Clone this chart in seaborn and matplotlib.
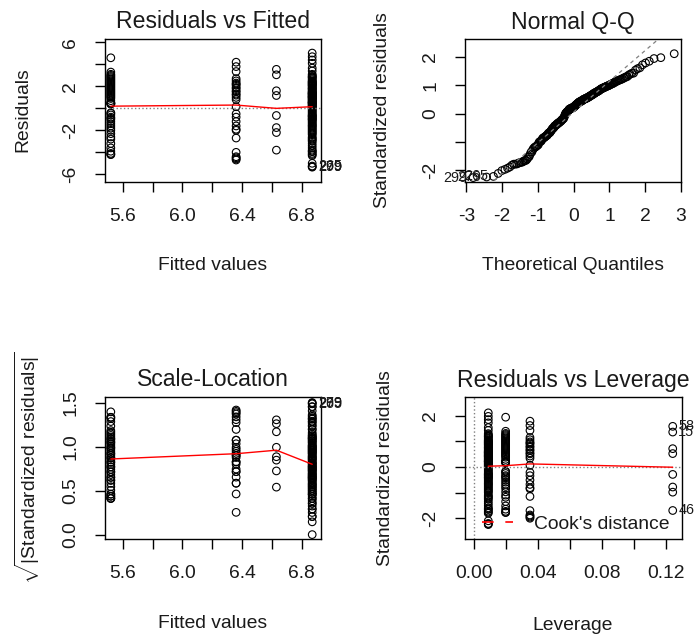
import numpy as np
import pandas as pd
import matplotlib.pyplot as plt
import seaborn as sns
from statistics import NormalDist

# fitted value and leverage of the four factor levels
fitted_levels = [5.52, 6.36, 6.63, 6.87]
leverage_levels = [0.0196, 0.0348, 0.124, 0.00875]

resid_552 = [-4.2, -4.2, -4.1, -3.9, -3.6, -3.2, -2.8, -2.6, -2.3, -2.0, -1.8, -1.6, -1.4,
             -1.2, -1.0, -0.9, -0.8, -0.6, -0.45, -0.4, 0.4, 0.4, 0.45, 0.5, 0.5,
             0.7, 0.9, 1.0, 1.1, 1.2, 1.3, 1.4, 1.5, 1.6, 1.7, 1.8, 1.9, 2.0, 2.1, 2.2,
             2.3, 2.4, 2.5, 2.6, 2.7, 2.8, 2.9, 3.0, 3.1, 3.3, 4.6]
resid_636 = [-4.7, -4.6, -4.5, -4.4, -4.0, -2.7, -2.0, -1.9, -1.6, -1.2, -0.8, -0.5, 0.15,
             0.8, 1.0, 1.2, 1.3, 1.5, 1.6, 1.8, 1.9, 2.1, 2.2, 2.3, 2.5, 2.7, 3.35, 3.8, 4.2]
resid_663 = [3.55, 3.05, 1.6, 1.17, -0.65, -1.75, -2.2, -3.8]
resid_687 = [-5.35, -5.3, -5.25, -5.0, -4.3, -4.2, -4.1,
             -3.95, -3.9, -3.8, -3.6, -3.4, -3.2, -3.0, -2.9, -2.8, -2.7, -2.6,
             -2.4, -2.3, -2.2, -2.1, -2.0, -1.9, -1.8, -1.7, -1.6, -1.55,
             -1.45, -1.35, -1.25, -1.15, -1.05, -1.0, -0.95, -0.9,
             -0.8, -0.75, -0.7, -0.65, -0.6, -0.5, -0.4, -0.3, -0.2, -0.1, 0.0,
             0.05, 0.1, 0.15, 0.2, 0.25, 0.3, 0.35, 0.4, 0.45, 0.5, 0.5, 0.55, 0.55,
             0.6, 0.65, 0.7, 0.75, 0.8, 0.85, 0.9, 0.95, 1.0, 1.0, 1.05, 1.1, 1.1, 1.15,
             1.2, 1.25, 1.3, 1.3, 1.35, 1.4, 1.4, 1.45,
             1.5, 1.55, 1.6, 1.7, 1.75, 1.8, 1.85, 1.9, 2.0, 2.05, 2.1, 2.15, 2.2, 2.25,
             2.3, 2.35, 2.4, 2.45, 2.5, 2.6, 2.7, 2.8, 2.85, 2.9, 3.0, 3.1,
             3.4, 3.66, 4.1, 4.4, 4.7, 5.03]

# observation numbers printed by R next to the extreme points
ids_663 = {0: "58", 1: "15", 7: "46"}
ids_687 = {0: "299", 1: "279", 2: "265"}

# red lowess curves
smooth_fit_x = [5.52, 6.36, 6.63, 6.87]
smooth_fit_y = [0.2, 0.3, 0.0, 0.15]
smooth_sl_y = [0.86, 0.92, 0.96, 0.80]
smooth_lev_x = [0.00875, 0.0196, 0.0348, 0.124]
smooth_lev_y = [0.03, 0.05, 0.12, -0.01]

rows = []
for f, h, r, ids in zip(fitted_levels, leverage_levels,
                        [resid_552, resid_636, resid_663, resid_687],
                        [{}, {}, ids_663, ids_687]):
    for i, v in enumerate(r):
        rows.append((f, h, v, ids.get(i, "")))
df = pd.DataFrame(rows, columns=["fitted", "leverage", "resid", "obs"])
n = len(df)
sigma = np.sqrt((df.resid ** 2).sum() / (n - 4))
df["std_resid"] = df.resid / (sigma * np.sqrt(1 - df.leverage))
df["sqrt_std"] = np.sqrt(df.std_resid.abs())
df["cook"] = df.std_resid ** 2 * df.leverage / (4 * (1 - df.leverage))

qq = df.sort_values("std_resid").reset_index(drop=True)
qq["theo"] = [NormalDist().inv_cdf((i + 0.5) / n) for i in range(n)]
q_y = np.quantile(df.std_resid, [0.25, 0.75])
q_x = np.array([NormalDist().inv_cdf(0.25), NormalDist().inv_cdf(0.75)])
qq_slope = (q_y[1] - q_y[0]) / (q_x[1] - q_x[0])
qq_int = q_y[0] - qq_slope * q_x[0]

sns.set_style("white")
plt.rcParams["font.family"] = ["Liberation Sans", "DejaVu Sans"]
plt.rcParams["mathtext.fontset"] = "custom"
plt.rcParams["mathtext.rm"] = "Liberation Sans"

W, H = 697, 636
fig = plt.figure(figsize=(W / 100, H / 100), dpi=100)
TXT = "#1a1a1a"
FS = 13.9


def box(l, t, r, b):
    return fig.add_axes([l / W, 1 - b / H, (r - l) / W, (b - t) / H])


def style(ax, xlim, ylim, xt, xl, yt, yl):
    ax.set_xlim(xlim)
    ax.set_ylim(ylim)
    ax.set_xticks(xt)
    ax.set_xticklabels(xl)
    ax.set_yticks(yt)
    ax.set_yticklabels(yl)
    ax.set_xlabel("")
    ax.set_ylabel("")
    ax.tick_params(length=7.5, width=1, pad=11, labelsize=FS, colors=TXT, color="black",
                   bottom=True, left=True)
    ax.tick_params(axis="y", labelrotation=90)
    for t in ax.get_yticklabels():
        t.set_va("center")
    for s in ax.spines.values():
        s.set_color("black")
        s.set_linewidth(1)


def text(x, y, s, size=FS, rot=0):
    fig.text(x / W, 1 - y / H, s, ha="center", va="center", fontsize=size, rotation=rot, color=TXT)


def ids(ax, xs, ys, labels, side="right"):
    for x, y, s in zip(xs, ys, labels):
        ax.annotate(s, (x, y), xytext=(4 if side == "right" else -4, 0), textcoords="offset points",
                    ha="left" if side == "right" else "right", va="center", fontsize=10.4,
                    color=TXT, annotation_clip=False)


pts = dict(marker="o", s=30, facecolor="none", edgecolor="black", linewidth=0.8, legend=False)

# Residuals vs Fitted
ax1 = box(105, 39, 321, 182)
ax1.axhline(0, color="gray", ls=":", lw=1)
sns.scatterplot(data=df, x="fitted", y="resid", ax=ax1, **pts)
ax1.plot(smooth_fit_x, smooth_fit_y, color="red", lw=1)
top = df.loc[df.std_resid.abs().nlargest(3).index]
ids(ax1, top.fitted, top.resid, top.obs)
style(ax1, (5.481, 6.929), (-6.70, 6.31), [5.6, 5.8, 6.0, 6.2, 6.4, 6.6, 6.8],
      ["5.6", "", "6.0", "", "6.4", "", "6.8"], [-6, -4, -2, 0, 2, 4, 6],
      ["-6", "", "-2", "", "2", "", "6"])

# Normal Q-Q
ax2 = box(465, 39, 681, 182)
xx = np.array([-3.5, 3.5])
ax2.plot(xx, qq_int + qq_slope * xx, color="gray", ls=(0, (3, 3)), lw=0.9)
sns.scatterplot(data=qq, x="theo", y="std_resid", ax=ax2, **pts)
topq = qq.loc[qq.std_resid.abs().nlargest(3).index]
ids(ax2, topq.theo, topq.std_resid, topq.obs, side="left")
style(ax2, (-3.04, 3.0), (-2.41, 2.64), [-3, -2, -1, 0, 1, 2, 3],
      ["-3", "-2", "-1", "0", "1", "2", "3"], [-2, -1, 0, 1, 2], ["-2", "", "0", "1", "2"])

# Scale-Location
ax3 = box(105, 397, 321, 539)
sns.scatterplot(data=df, x="fitted", y="sqrt_std", ax=ax3, **pts)
ax3.plot(smooth_fit_x, smooth_sl_y, color="red", lw=1)
ids(ax3, top.fitted, top.sqrt_std, top.obs)
style(ax3, (5.481, 6.929), (-0.05, 1.565), [5.6, 5.8, 6.0, 6.2, 6.4, 6.6, 6.8],
      ["5.6", "", "6.0", "", "6.4", "", "6.8"], [0, 0.5, 1.0, 1.5],
      ["0.0", "0.5", "1.0", "1.5"])

# Residuals vs Leverage
ax4 = box(465, 397, 682, 539)
ax4.axhline(0, color="gray", ls=":", lw=1)
ax4.axvline(0, color="gray", ls=":", lw=1)
sns.scatterplot(data=df, x="leverage", y="std_resid", ax=ax4, **pts)
ax4.plot(smooth_lev_x, smooth_lev_y, color="red", lw=1)
topc = df.loc[df.cook.nlargest(3).index]
ids(ax4, topc.leverage, topc.std_resid, topc.obs)
ax4.plot([], [], color="red", ls=(0, (7, 7)), lw=1.2, label="Cook's distance")
leg = ax4.legend(loc="lower left", bbox_to_anchor=(0.078, 0.045), frameon=False, fontsize=FS,
                 handlelength=1.6, borderaxespad=0, borderpad=0, handletextpad=1.1)
for t in leg.get_texts():
    t.set_color(TXT)
style(ax4, (-0.0058, 0.1298), (-2.82, 2.74), [0, 0.02, 0.04, 0.06, 0.08, 0.10, 0.12],
      ["0.00", "", "0.04", "", "0.08", "", "0.12"], [-2, -1, 0, 1, 2], ["-2", "", "0", "", "2"])

text(213, 22, "Residuals vs Fitted", 16.6)
text(573, 22, "Normal Q-Q", 16.6)
text(213, 380, "Scale-Location", 16.6)
text(573, 380, "Residuals vs Leverage", 16.6)
text(213, 265, "Fitted values")
text(573, 265, "Theoretical Quantiles")
text(213, 623, "Fitted values")
text(573, 625, "Leverage")
text(23, 110, "Residuals", rot=90)
text(383, 110, "Standardized residuals", rot=90)
text(27, 468, r"$\sqrt{|\mathrm{Standardized\ residuals}|}$", rot=90)
text(385, 468, "Standardized residuals", rot=90)

fig.savefig("out.png", dpi=100)
